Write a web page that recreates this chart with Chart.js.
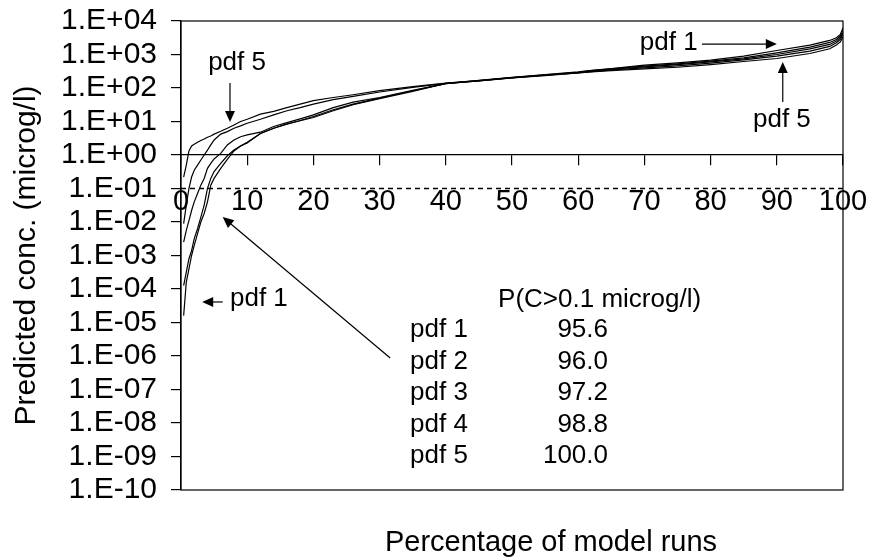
<!DOCTYPE html>
<html>
<head>
<meta charset="utf-8">
<script src="https://cdn.jsdelivr.net/npm/chart.js@4.4.1/dist/chart.umd.min.js"></script>
<style>
  html, body { margin: 0; padding: 0; background: #fff; }
</style>
</head>
<body>
<canvas id="cdf" width="873" height="560"></canvas>
<script>
// percentage of model runs (x) shared by all five curves
const pct = [0.4, 0.8, 1.2, 1.6, 2, 2.5, 3, 3.5, 4, 4.5, 5, 6, 7, 8, 9, 10, 12, 14, 16, 18, 20, 23, 26, 30, 35,
  40, 45, 50, 55, 60, 62, 65, 70, 75, 80, 85, 90, 95, 98, 99, 99.6, 100];

// predicted concentrations in microg/l
const pdf1 = [1.6e-5, 1.6e-4, 4e-4, 1e-3, 2e-3, 4.5e-3, 0.01, 0.018, 0.04, 0.126, 0.2, 0.4, 0.74, 1.32, 1.86, 2.3,
  4.4, 6.3, 8.5, 10.5, 13.2, 21, 32, 48, 79, 138, 170, 209, 251, 302, 339, 380, 479, 562, 676, 891, 1318, 1905,
  2630, 3162, 3981, 6310];
const pdf2 = [1.26e-4, 3.2e-4, 8e-4, 1.4e-3, 3.2e-3, 6.3e-3, 0.014, 0.032, 0.1, 0.2, 0.32, 0.56, 0.95, 1.4, 1.86,
  2.4, 4.4, 6.3, 8.3, 10.7, 14.1, 22.4, 33, 50, 83, 135, 166, 204, 245, 295, 331, 372, 447, 525, 631, 794, 1122,
  1660, 2291, 2818, 3548, 5248];
const pdf3 = [2.5e-3, 5.6e-3, 0.011, 0.022, 0.04, 0.071, 0.126, 0.2, 0.4, 0.56, 0.76, 1.12, 2.0, 2.8, 3.5, 4.0,
  4.8, 7.1, 9.3, 12, 15.8, 26, 38, 52, 85, 135, 162, 200, 240, 288, 316, 363, 427, 501, 603, 741, 1000, 1479,
  1995, 2512, 3162, 4467];
const pdf4 = [8.9e-3, 0.032, 0.1, 0.22, 0.35, 0.5, 0.71, 1.0, 1.4, 2.0, 2.8, 4.2, 5.0, 6.3, 7.4, 8.9, 11.7, 15.8,
  21, 26, 33, 45, 56, 76, 105, 138, 162, 200, 234, 282, 309, 347, 398, 457, 550, 692, 891, 1259, 1738, 2239,
  2818, 3981];
const pdf5 = [0.22, 0.5, 1.32, 1.86, 2.1, 2.4, 2.7, 3.0, 3.4, 3.7, 4.2, 5.1, 6.3, 7.9, 10, 11.7, 16.6, 20, 26, 33,
  42, 52, 63, 83, 110, 141, 166, 204, 240, 282, 302, 331, 372, 417, 501, 617, 759, 1072, 1479, 1905, 2399, 3311];

// threshold and exceedance table
const threshold = 0.1;
const tableNames = ['pdf 1', 'pdf 2', 'pdf 3', 'pdf 4', 'pdf 5'];
const tableValues = ['95.6', '96.0', '97.2', '98.8', '100.0'];

// axis ticks
const yTicks = [1e4, 1e3, 1e2, 1e1, 1, 1e-1, 1e-2, 1e-3, 1e-4, 1e-5, 1e-6, 1e-7, 1e-8, 1e-9, 1e-10];

const FONT = 'Arial, "Liberation Sans", sans-serif';

function sciLabel(v) {
  const e = Math.round(Math.log10(v));
  return '1.E' + (e < 0 ? '-' : '+') + String(Math.abs(e)).padStart(2, '0');
}

function curve(values) {
  return {
    data: pct.map((p, i) => ({ x: p, y: values[i] })),
    borderColor: '#000',
    borderWidth: 1.2,
    pointRadius: 0,
    tension: 0,
  };
}

function arrow(ctx, x1, y1, x2, y2) {
  const a = Math.atan2(y2 - y1, x2 - x1);
  const len = 11, w = 5;
  ctx.beginPath();
  ctx.moveTo(x1, y1);
  ctx.lineTo(x2 - Math.cos(a) * len * 0.8, y2 - Math.sin(a) * len * 0.8);
  ctx.stroke();
  ctx.beginPath();
  ctx.moveTo(x2, y2);
  ctx.lineTo(x2 - Math.cos(a) * len - Math.sin(a) * w, y2 - Math.sin(a) * len + Math.cos(a) * w);
  ctx.lineTo(x2 - Math.cos(a) * len + Math.sin(a) * w, y2 - Math.sin(a) * len - Math.cos(a) * w);
  ctx.closePath();
  ctx.fill();
}

// frame, x title, labels and arrows
const extras = {
  id: 'extras',
  afterDraw(chart) {
    const { ctx, chartArea: a } = chart;
    const X = v => chart.scales.x.getPixelForValue(v);
    const Y = v => chart.scales.y.getPixelForValue(v);
    ctx.save();
    ctx.strokeStyle = '#000';
    ctx.fillStyle = '#000';
    ctx.lineWidth = 1.2;
    ctx.strokeRect(a.left, a.top, a.right - a.left, a.bottom - a.top);

    ctx.font = '29px ' + FONT;
    ctx.textAlign = 'center';
    ctx.textBaseline = 'middle';
    ctx.fillText('Percentage of model runs', 551, 543);

    ctx.font = '26px ' + FONT;
    ctx.textAlign = 'left';
    ctx.textBaseline = 'alphabetic';
    ctx.fillText('pdf 5', X(4.1), Y(347));
    arrow(ctx, X(7.4), Y(141), X(7.4), Y(9.7));
    ctx.fillText('pdf 1', X(69.3), Y(1350));
    arrow(ctx, X(78.7), Y(2050), X(90), Y(2050));
    ctx.fillText('pdf 5', X(86.4), Y(7.0));
    arrow(ctx, X(90.9), Y(38), X(90.9), Y(600));
    ctx.fillText('pdf 1', X(7.4), Y(3.1e-5));
    arrow(ctx, X(6.3), Y(4.1e-5), X(3.2), Y(4.1e-5));
    arrow(ctx, X(31.6), Y(8.7e-7), X(6.3), Y(0.014));

    // exceedance table
    const hy = Y(2.9e-5);
    ctx.fillText('P(C>0.1 microg/l)', X(47.9), hy);
    tableNames.forEach((n, i) => {
      const ry = hy + 30 + i * 31.6;
      ctx.textAlign = 'left';
      ctx.fillText(n, X(34.6), ry);
      ctx.textAlign = 'right';
      ctx.fillText(tableValues[i], X(64.5), ry);
    });
    ctx.restore();
  }
};

new Chart(document.getElementById('cdf'), {
  type: 'line',
  data: {
    datasets: [
      curve(pdf1), curve(pdf2), curve(pdf3), curve(pdf4), curve(pdf5),
      {
        data: [{ x: 0, y: threshold }, { x: 100, y: threshold }],
        borderColor: '#000',
        borderWidth: 1.3,
        borderDash: [5, 4],
        pointRadius: 0,
      },
    ],
  },
  options: {
    responsive: false,
    animation: false,
    devicePixelRatio: 1,
    layout: { padding: { top: 21, right: 30, bottom: 70, left: 0 } },
    plugins: { legend: { display: false }, tooltip: { enabled: false } },
    scales: {
      x: {
        type: 'linear',
        min: 0,
        max: 100,
        position: { y: 1 },
        afterFit(s) {
          s.paddingLeft = 0;
          s.paddingRight = 0;
        },
        border: { color: '#000', width: 1.2 },
        grid: { drawOnChartArea: false, tickLength: 10, color: '#000', lineWidth: 1.2 },
        ticks: { stepSize: 10, color: '#000', font: { size: 29, family: FONT }, padding: 20, maxRotation: 0, autoSkip: false },
      },
      y: {
        type: 'logarithmic',
        min: 1e-10,
        max: 1e4,
        position: 'left',
        afterFit(s) {
          s.width = 181;
          s.paddingTop = 0;
          s.paddingBottom = 0;
        },
        afterBuildTicks(s) { s.ticks = yTicks.map(v => ({ value: v })); },
        border: { color: '#000', width: 1.2 },
        grid: { drawOnChartArea: false, tickLength: 10, color: '#000', lineWidth: 1.2 },
        ticks: { color: '#000', font: { size: 30, family: FONT }, padding: 14, autoSkip: false, callback: v => sciLabel(v) },
        title: {
          display: true,
          text: 'Predicted conc. (microg/l)',
          color: '#000',
          font: { size: 30, family: FONT },
          padding: { top: 9, bottom: 0 },
        },
      },
    },
  },
  plugins: [extras],
});
</script>
</body>
</html>
